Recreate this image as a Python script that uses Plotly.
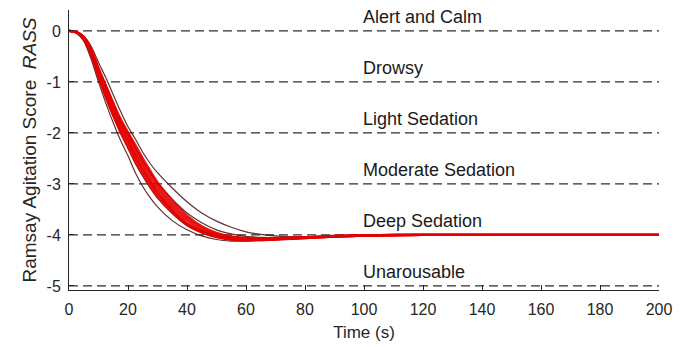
import plotly.graph_objects as go

# Time samples (s)
time_s = [0, 2.5, 5, 7.5, 10, 12.5, 15, 17.5, 20, 22.5, 25, 27.5, 30, 35, 40, 45,
          50, 55, 60, 65, 70, 80, 90, 100, 120, 150, 200]

# Dark (outline) trajectories
dark_fast = [0, -0.04, -0.2, -0.55, -1.0, -1.42, -1.8, -2.15, -2.45, -2.78, -3.05, -3.27, -3.45,
             -3.72, -3.9, -4.02, -4.09, -4.12, -4.12, -4.11, -4.1, -4.07, -4.04, -4.02, -4.0, -4.0, -4.0]
dark_mid_fast = [0, -0.03, -0.17, -0.48, -0.92, -1.32, -1.68, -2.0, -2.3, -2.6, -2.85, -3.08, -3.28,
                 -3.58, -3.82, -3.96, -4.05, -4.1, -4.11, -4.1, -4.09, -4.06, -4.03, -4.01, -4.0, -4.0, -4.0]
dark_mid_slow = [0, -0.02, -0.12, -0.36, -0.72, -1.07, -1.42, -1.75, -2.02, -2.3, -2.55, -2.78, -2.98,
                 -3.3, -3.57, -3.76, -3.9, -3.98, -4.03, -4.05, -4.06, -4.05, -4.03, -4.01, -4.0, -4.0, -4.0]
dark_slow = [0, -0.02, -0.1, -0.3, -0.62, -0.92, -1.25, -1.58, -1.88, -2.12, -2.38, -2.6, -2.78,
             -3.08, -3.35, -3.57, -3.73, -3.85, -3.94, -3.99, -4.02, -4.04, -4.03, -4.02, -4.0, -4.0, -4.0]

# Red trajectories
red_1 = [0, -0.03, -0.17, -0.47, -0.9, -1.3, -1.66, -1.99, -2.28, -2.57, -2.82, -3.05, -3.25,
         -3.56, -3.8, -3.95, -4.04, -4.09, -4.1, -4.1, -4.09, -4.06, -4.03, -4.01, -4.0, -4.0, -4.0]
red_2 = [0, -0.03, -0.16, -0.44, -0.86, -1.24, -1.6, -1.93, -2.2, -2.49, -2.75, -2.98, -3.19,
         -3.52, -3.78, -3.93, -4.03, -4.08, -4.1, -4.09, -4.08, -4.06, -4.03, -4.01, -4.0, -4.0, -4.0]
red_3 = [0, -0.03, -0.15, -0.42, -0.85, -1.2, -1.55, -1.88, -2.15, -2.45, -2.7, -2.95, -3.17,
         -3.5, -3.78, -3.93, -4.02, -4.07, -4.09, -4.09, -4.08, -4.05, -4.03, -4.01, -4.0, -4.0, -4.0]
red_4 = [0, -0.03, -0.14, -0.4, -0.8, -1.15, -1.5, -1.82, -2.1, -2.38, -2.63, -2.88, -3.1,
         -3.44, -3.72, -3.9, -4.0, -4.06, -4.08, -4.08, -4.07, -4.05, -4.03, -4.01, -4.0, -4.0, -4.0]
red_5 = [0, -0.02, -0.13, -0.38, -0.76, -1.1, -1.45, -1.77, -2.03, -2.3, -2.56, -2.8, -3.03,
         -3.38, -3.67, -3.86, -3.98, -4.04, -4.07, -4.07, -4.07, -4.05, -4.02, -4.01, -4.0, -4.0, -4.0]
red_6 = [0, -0.02, -0.12, -0.36, -0.73, -1.07, -1.41, -1.73, -1.99, -2.24, -2.5, -2.74, -2.97,
         -3.32, -3.62, -3.83, -3.96, -4.03, -4.06, -4.07, -4.06, -4.05, -4.02, -4.01, -4.0, -4.0, -4.0]

dark_curves = [dark_fast, dark_mid_fast, dark_mid_slow, dark_slow]
red_curves = [red_1, red_2, red_3, red_4, red_5, red_6]

# Sedation levels
level_values = [0, -1, -2, -3, -4, -5]
level_names = ["Alert and Calm", "Drowsy", "Light Sedation", "Moderate Sedation",
               "Deep Sedation", "Unarousable"]
label_x = 100

x_ticks = [0, 20, 40, 60, 80, 100, 120, 140, 160, 180, 200]
y_ticks = [0, -1, -2, -3, -4, -5]
y_tick_text = ["0", "-1", "-2", "-3", "-4", "-5"]

FONT = "Liberation Sans, Arial, Helvetica, sans-serif"
AX = "#262626"

fig = go.Figure()

for lv in level_values:
    fig.add_trace(go.Scatter(x=[x_ticks[0], x_ticks[-1]], y=[lv, lv], mode="lines",
                             line=dict(color="#2e2e2e", width=1.2, dash="9px,5px"),
                             hoverinfo="skip", showlegend=False))

for c in dark_curves:
    fig.add_trace(go.Scatter(x=time_s, y=c, mode="lines",
                             line=dict(color="rgba(70,12,12,0.85)", width=1.2, shape="spline", smoothing=0.8),
                             showlegend=False))
for c in red_curves:
    fig.add_trace(go.Scatter(x=time_s, y=c, mode="lines",
                             line=dict(color="rgba(228,0,0,0.9)", width=2.4, shape="spline", smoothing=0.8),
                             showlegend=False))

for lv, name in zip(level_values, level_names):
    fig.add_annotation(x=label_x, y=lv + 0.27, text=name, showarrow=False,
                       xanchor="left", yanchor="middle", xshift=-3,
                       font=dict(family=FONT, size=18, color="#1a1a1a"))

fig.update_layout(
    width=697, height=347,
    margin=dict(l=69, r=38, t=10, b=57),
    paper_bgcolor="white", plot_bgcolor="white",
    font=dict(family=FONT, color=AX),
    xaxis=dict(range=[0, 200], tickvals=x_ticks, ticks="inside", ticklen=5, tickcolor=AX,
               showline=True, linecolor=AX, linewidth=1, showgrid=False, zeroline=False,
               tickfont=dict(size=16, color=AX), ticklabelstandoff=5,
               title=dict(text="Time (s)", font=dict(size=17, color=AX), standoff=8)),
    yaxis=dict(range=[-5.08, 0.41], tickvals=y_ticks, ticktext=y_tick_text,
               ticks="inside", ticklen=5, tickcolor=AX,
               showline=True, linecolor=AX, linewidth=1, showgrid=False, zeroline=False,
               tickfont=dict(size=16, color=AX), ticklabelstandoff=4,
               title=dict(text="Ramsay Agitation Score\u00a0\u00a0<i>RASS</i>",
                          font=dict(size=19, color=AX), standoff=4)),
)

fig.write_html("out.html")
